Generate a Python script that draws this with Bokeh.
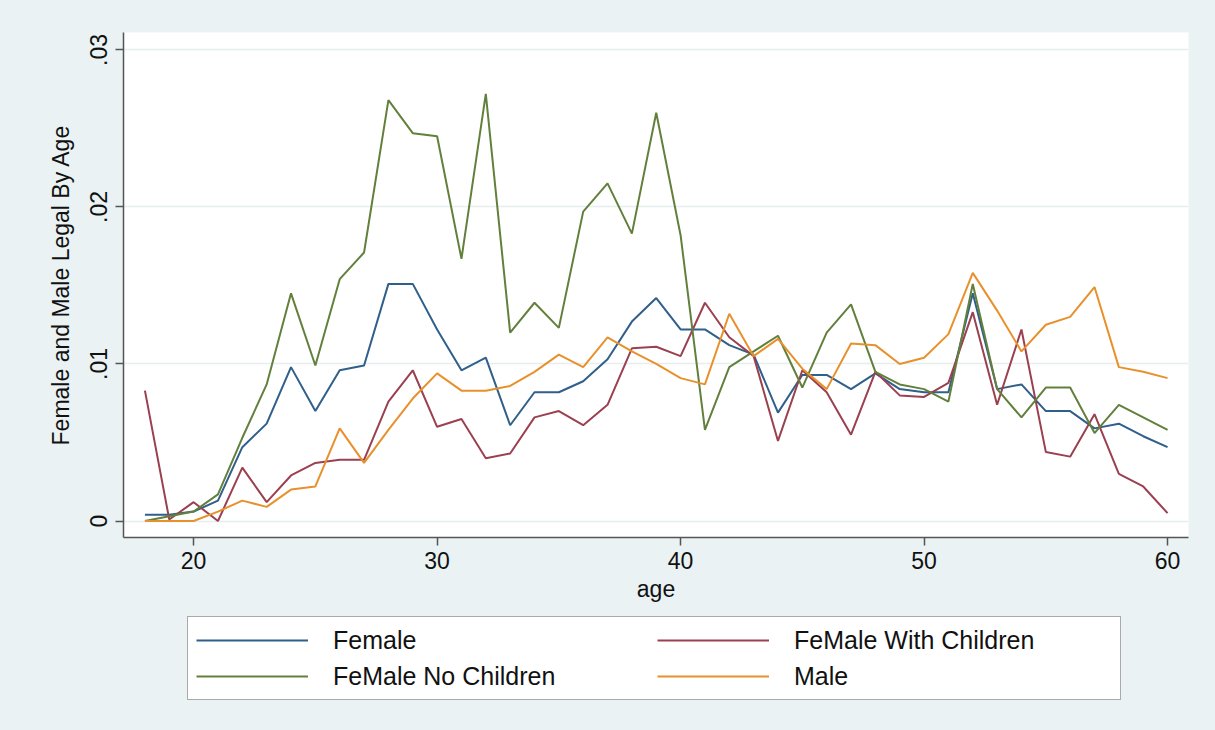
from bokeh.plotting import figure
from bokeh.layouts import column
from bokeh.models import FixedTicker, Legend, LegendItem, ColumnDataSource
from bokeh.embed import file_html
from bokeh.resources import INLINE

ages = list(range(18, 61))

female = [0.0004, 0.0004, 0.0006, 0.0013, 0.0047, 0.0062, 0.0098, 0.0070, 0.0096, 0.0099,
          0.0151, 0.0151, 0.0122, 0.0096, 0.0104, 0.0061, 0.0082, 0.0082, 0.0089, 0.0103,
          0.0127, 0.0142, 0.0122, 0.0122, 0.0112, 0.0106, 0.0069, 0.0093, 0.0093, 0.0084,
          0.0094, 0.0084, 0.0082, 0.0082, 0.0145, 0.0084, 0.0087, 0.0070, 0.0070, 0.0059,
          0.0062, 0.0054, 0.0047]

female_with_children = [0.0083, 0.0001, 0.0012, 0.0000, 0.0034, 0.0012, 0.0029, 0.0037, 0.0039, 0.0039,
                        0.0076, 0.0096, 0.0060, 0.0065, 0.0040, 0.0043, 0.0066, 0.0070, 0.0061, 0.0074,
                        0.0110, 0.0111, 0.0105, 0.0139, 0.0117, 0.0105, 0.0051, 0.0096, 0.0082, 0.0055,
                        0.0095, 0.0080, 0.0079, 0.0088, 0.0133, 0.0074, 0.0122, 0.0044, 0.0041, 0.0068,
                        0.0030, 0.0022, 0.0005]

female_no_children = [0.0000, 0.0003, 0.0006, 0.0017, 0.0053, 0.0087, 0.0145, 0.0099, 0.0154, 0.0171,
                      0.0268, 0.0247, 0.0245, 0.0167, 0.0272, 0.0120, 0.0139, 0.0123, 0.0197, 0.0215,
                      0.0183, 0.0260, 0.0182, 0.0058, 0.0098, 0.0108, 0.0118, 0.0085, 0.0120, 0.0138,
                      0.0095, 0.0087, 0.0084, 0.0076, 0.0151, 0.0084, 0.0066, 0.0085, 0.0085, 0.0056,
                      0.0074, 0.0066, 0.0058]

male = [0.0000, 0.0000, 0.0000, 0.0006, 0.0013, 0.0009, 0.0020, 0.0022, 0.0059, 0.0037,
        0.0058, 0.0078, 0.0094, 0.0083, 0.0083, 0.0086, 0.0095, 0.0106, 0.0098, 0.0117,
        0.0108, 0.0100, 0.0091, 0.0087, 0.0132, 0.0105, 0.0116, 0.0097, 0.0084, 0.0113,
        0.0112, 0.0100, 0.0104, 0.0119, 0.0158, 0.0134, 0.0108, 0.0125, 0.0130, 0.0149,
        0.0098, 0.0095, 0.0091]

x_ticks = [20, 30, 40, 50, 60]
y_ticks = [0, 0.01, 0.02, 0.03]
y_tick_labels = ["0", ".01", ".02", ".03"]

series_names = ["Female", "FeMale With Children", "FeMale No Children", "Male"]
series_colors = ["#2f5f8a", "#9a4050", "#62803c", "#e8912c"]

FONT = "Liberation Sans"
BG = "#eaf2f3"

p = figure(width=1215, height=612, output_backend="svg", toolbar_location=None,
           x_range=(17.12, 60.86), y_range=(-0.00105, 0.03111),
           min_border_left=123, min_border_right=27, min_border_top=32, min_border_bottom=75)

p.background_fill_color = "white"
p.border_fill_color = BG
p.outline_line_color = None

src = ColumnDataSource(dict(age=ages, f=female, fwc=female_with_children, fnc=female_no_children, m=male))
cols = ["f", "fwc", "fnc", "m"]
for col, color in zip(cols, series_colors):
    p.line("age", col, source=src, line_color=color, line_width=2)

p.xaxis.ticker = FixedTicker(ticks=x_ticks)
p.yaxis.ticker = FixedTicker(ticks=y_ticks)
p.yaxis.major_label_overrides = {v: s for v, s in zip(y_ticks, y_tick_labels)}
p.yaxis.major_label_orientation = "vertical"

for ax in (p.xaxis[0], p.yaxis[0]):
    ax.axis_line_color = "#555555"
    ax.axis_line_width = 1.5
    ax.major_tick_line_color = "#555555"
    ax.major_tick_line_width = 1.5
    ax.major_tick_out = 8
    ax.major_tick_in = 0
    ax.minor_tick_line_color = None
    ax.major_label_text_font = FONT
    ax.major_label_text_font_size = "23px"
    ax.major_label_text_color = "#111111"
    ax.axis_label_text_font = FONT
    ax.axis_label_text_font_size = "23px"
    ax.axis_label_text_font_style = "normal"
    ax.axis_label_text_color = "#111111"

p.xaxis.axis_label = "age"
p.yaxis.axis_label = "Female and Male Legal By Age"
p.xaxis.major_label_standoff = 6
p.xaxis.axis_label_standoff = 4
p.yaxis.major_label_standoff = 8
p.yaxis.axis_label_standoff = 14

p.xgrid.grid_line_color = None
p.ygrid.grid_line_color = "#e6eef0"
p.ygrid.grid_line_width = 1.5

# legend panel (separate figure below the chart)
lf = figure(width=1215, height=118, output_backend="svg", toolbar_location=None,
            x_range=(0, 1), y_range=(0, 1),
            min_border_left=123, min_border_right=27, min_border_top=0, min_border_bottom=0)
lf.axis.visible = False
lf.grid.visible = False
lf.outline_line_color = None
lf.background_fill_color = None
lf.border_fill_color = BG

leg_renderers = [lf.line(x=[-5, -4], y=[-5, -5], line_color=c, line_width=2) for c in series_colors]
items = [LegendItem(label=n, renderers=[r]) for n, r in zip(series_names, leg_renderers)]
legend = Legend(items=items, orientation="horizontal", ncols=2,
                location=(64, 30),
                label_text_font=FONT, label_text_font_size="25px", label_text_color="#111111",
                glyph_width=112, glyph_height=30, label_height=30, label_width=318,
                label_standoff=25, spacing=6, padding=8, margin=0,
                border_line_color="#555555", border_line_width=1.5,
                background_fill_color="white", background_fill_alpha=1.0)
lf.add_layout(legend, "center")

layout = column(p, lf, spacing=0, styles={"background-color": BG})
open("out.html", "w").write(file_html(layout, INLINE))
